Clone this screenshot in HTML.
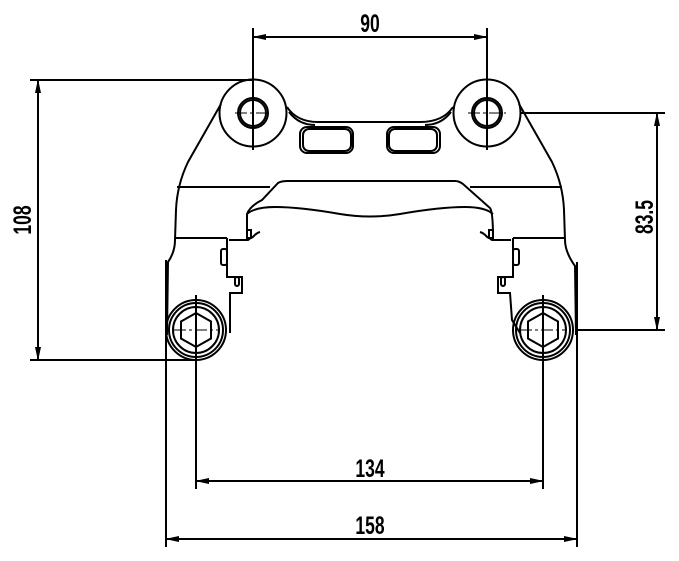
<!DOCTYPE html>
<html><head><style>html,body{margin:0;padding:0;background:#fff}svg{display:block}
text{font-family:"Liberation Sans",sans-serif;font-weight:bold;font-size:25px;fill:#000}</style></head>
<body>
<svg width="679" height="561" viewBox="0 0 679 561" xmlns="http://www.w3.org/2000/svg">
<defs>
<marker id="a" markerWidth="14" markerHeight="6" refX="13" refY="3" orient="auto" markerUnits="userSpaceOnUse"><path d="M0,0 L14,3 L0,6 Z" fill="#000"/></marker>
<marker id="b" markerWidth="14" markerHeight="6" refX="1" refY="3" orient="auto" markerUnits="userSpaceOnUse"><path d="M14,0 L0,3 L14,6 Z" fill="#000"/></marker>
</defs>
<g fill="none" stroke="#000" stroke-width="2">
<line x1="253" y1="28" x2="253" y2="150"/>
<line x1="487" y1="28" x2="487" y2="150"/>
<line x1="253" y1="37" x2="487" y2="37" marker-start="url(#b)" marker-end="url(#a)"/>
<line x1="30" y1="80" x2="253" y2="80"/>
<line x1="30" y1="360" x2="197" y2="360"/>
<line x1="38" y1="80" x2="38" y2="360" marker-start="url(#b)" marker-end="url(#a)"/>
<line x1="520" y1="113" x2="665" y2="113"/>
<line x1="575" y1="330" x2="665" y2="330"/>
<line x1="657" y1="113" x2="657" y2="330" marker-start="url(#b)" marker-end="url(#a)"/>
<line x1="196" y1="295" x2="196" y2="489"/>
<line x1="543" y1="295" x2="543" y2="489"/>
<line x1="196" y1="481" x2="543" y2="481" marker-start="url(#b)" marker-end="url(#a)"/>
<line x1="166" y1="260" x2="166" y2="547"/>
<line x1="577" y1="262" x2="577" y2="547"/>
<line x1="166" y1="539" x2="577" y2="539" marker-start="url(#b)" marker-end="url(#a)"/>

<path d="M221,104 L188,162 Q177,185 176,210 L175,240 Q175,252 168,262 L167,335"/>
<path d="M519,104 L552,162 Q563,185 564,210 L565,240 Q565,252 575,266 L576,335"/>
<circle cx="253" cy="113" r="33.5"/>
<circle cx="253" cy="113" r="15"/><circle cx="253" cy="113" r="13"/>
<circle cx="487" cy="113" r="33.5"/>
<circle cx="487" cy="113" r="15"/><circle cx="487" cy="113" r="13"/>
<path d="M287,107 Q297,122 318,122 L420,122 Q443,122 453,107"/>
<path d="M289,112 Q299,125 315,125"/>
<path d="M451,112 Q441,125 425,125"/>
<rect x="300" y="127" width="53" height="26" rx="7"/>
<rect x="303" y="129" width="48" height="22" rx="6"/>
<rect x="387" y="127" width="53" height="26" rx="7"/>
<rect x="389" y="129" width="48" height="22" rx="6"/>
<line x1="177" y1="187" x2="270" y2="187"/>
<line x1="470" y1="187" x2="562" y2="187"/>
<path d="M247,238 L247,214 Q250,206 262,200 L278,183 Q281,181 288,181 L455,181 Q459,181 463,184 L490,208 Q493,212 493,238"/>
<path d="M247,214 Q255,207 275,207 Q300,207 340,214 Q370,219 400,214 Q440,207 465,207 Q485,207 493,214"/>
<line x1="175" y1="238" x2="227" y2="238"/>
<line x1="513" y1="238" x2="565" y2="238"/>
<path d="M227,238 L227,277 L242,277 L242,293 L230,293 L230,333"/>
<path d="M229,240 L248,240 Q251,238 252,236"/>
<path d="M252,238 Q256,233 260,232"/>
<rect x="247" y="230" width="4" height="8"/>
<rect x="221" y="249" width="6" height="16" rx="2"/>
<rect x="235" y="277" width="4" height="9" rx="2"/>
<path d="M513,238 L513,277 L498,277 L498,293 L510,293 L512,320 L520,333"/>
<path d="M511,240 L492,240 Q489,238 488,236"/>
<path d="M488,238 Q484,233 480,232"/>
<rect x="489" y="230" width="4" height="8"/>
<rect x="513" y="249" width="6" height="16" rx="2"/>
<rect x="501" y="277" width="4" height="9" rx="2"/>
<circle cx="196" cy="330" r="30"/><circle cx="196" cy="330" r="27"/><circle cx="196" cy="330" r="23"/>
<polygon points="196,313 211,321.5 211,338.5 196,347 181,338.5 181,321.5"/>
<circle cx="543" cy="330" r="30"/><circle cx="543" cy="330" r="27"/><circle cx="543" cy="330" r="23"/>
<polygon points="543,313 558,321.5 558,338.5 543,347 528,338.5 528,321.5"/>
</g>
<g stroke="#000" stroke-width="1" stroke-dasharray="12,3,3,3" fill="none">
<line x1="253" y1="95" x2="253" y2="150"/>
<line x1="235" y1="113" x2="271" y2="113"/>
<line x1="468" y1="113" x2="506" y2="113"/>
<line x1="174" y1="330" x2="218" y2="330"/>
<line x1="520" y1="330" x2="566" y2="330"/>
</g>
<text transform="translate(370 32) scale(0.7 1)" text-anchor="middle">90</text>
<text transform="translate(370 477) scale(0.7 1)" text-anchor="middle">134</text>
<text transform="translate(370 534) scale(0.7 1)" text-anchor="middle">158</text>
<text transform="translate(31 220) rotate(-90) scale(0.7 1)" text-anchor="middle">108</text>
<text transform="translate(653 217) rotate(-90) scale(0.7 1)" text-anchor="middle">83.5</text>
</svg>
</body></html>
